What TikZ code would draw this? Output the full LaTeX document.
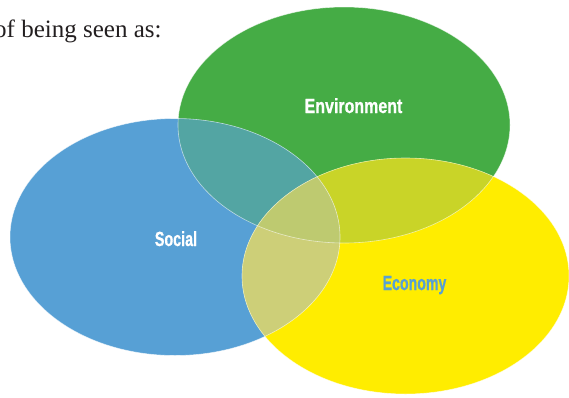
\documentclass[tikz,border=0pt]{standalone}
\usepackage{fontspec}
\usepackage{graphicx}
\setmainfont{Liberation Serif}
\newfontfamily\labelfont[BoldFeatures={FakeBold=0.8}]{Liberation Sans}
\definecolor{socblue}{RGB}{87,160,213}
\definecolor{envgreen}{RGB}{69,172,69}
\definecolor{ecoyellow}{RGB}{255,237,0}
\definecolor{bluegreen}{RGB}{83,165,163}
\definecolor{greenyellow}{RGB}{201,212,40}
\definecolor{blueyellow}{RGB}{205,207,120}
\definecolor{allthree}{RGB}{190,202,112}
\definecolor{introgray}{RGB}{35,31,32}
\tikzset{
  edge/.style={draw=white, draw opacity=0.6, line width=0.6pt},
  lbl/.style={inner sep=0pt, anchor=base, font=\labelfont\bfseries\fontsize{20.5}{24}\selectfont},
  envshape/.style={insert path={(344,125) ellipse [x radius=166pt, y radius=118pt]}},
  socshape/.style={insert path={(175,237) ellipse [x radius=165pt, y radius=118.5pt]}},
  ecoshape/.style={insert path={(405.5,276) ellipse [x radius=163.5pt, y radius=118pt]}}
}
\begin{document}
\begin{tikzpicture}[x=1pt,y=-1pt]
\useasboundingbox (0,0) rectangle (569,397);
% base fills
\fill[envgreen] [envshape];
\fill[socblue] [socshape];
\fill[ecoyellow] [ecoshape];
% pairwise overlaps
\begin{scope}
  \clip [envshape];
  \fill[bluegreen] [socshape];
\end{scope}
\begin{scope}
  \clip [envshape];
  \fill[greenyellow] [ecoshape];
\end{scope}
\begin{scope}
  \clip [socshape];
  \fill[blueyellow] [ecoshape];
\end{scope}
\begin{scope}
  \clip [envshape];
  \clip [socshape];
  \fill[allthree] [ecoshape];
\end{scope}
% outlines
\path[edge] [envshape];
\path[edge] [socshape];
\path[edge] [ecoshape];
% labels
\node[lbl, text=white] (env) at (353.5,113) {\scalebox{0.78}[1]{Environment}};
\node[lbl, text=white] (soc) at (176,246) {\scalebox{0.70}[1]{Social}};
\node[lbl, text=socblue] (eco) at (414.5,290) {\scalebox{0.69}[1]{Economy}};
\node[inner sep=0pt, anchor=base west, text=introgray, font=\fontsize{25}{30}\selectfont] (intro) at (-6,37) {of being seen as:};
\end{tikzpicture}
\end{document}
